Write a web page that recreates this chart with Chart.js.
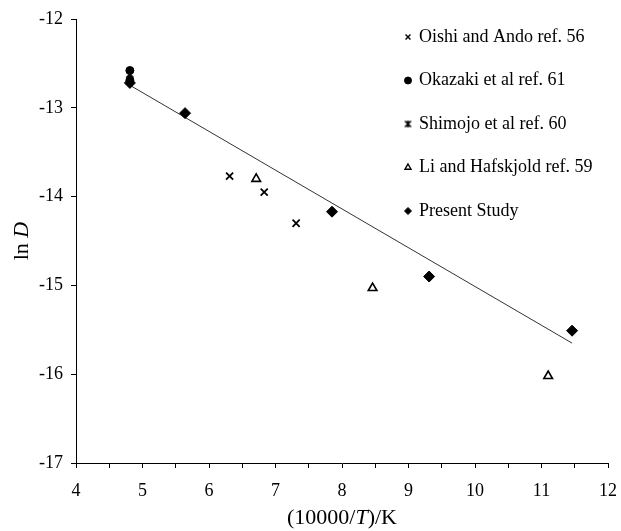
<!DOCTYPE html>
<html>
<head>
<meta charset="utf-8">
<script src="https://cdn.jsdelivr.net/npm/chart.js@4/dist/chart.umd.min.js"></script>
<style>
  html, body { margin: 0; padding: 0; background: #fff; }
  #wrap { width: 621px; height: 531px; }
</style>
</head>
<body>
<div id="wrap"><canvas id="chart" width="621" height="531"></canvas></div>
<script>
// values
const seriesNames = [
  "Oishi and Ando ref. 56",
  "Okazaki et al ref. 61",
  "Shimojo et al ref. 60",
  "Li and Hafskjold ref. 59",
  "Present Study",
];
const oishiX = [6.31, 6.83, 7.31];
const oishiY = [-13.77, -13.95, -14.3];
const okazakiX = [4.81, 4.81];
const okazakiY = [-12.58, -12.69];
const shimojoX = [4.81];
const shimojoY = [-12.62];
const liX = [6.71, 8.46, 11.1];
const liY = [-13.8, -15.03, -16.02];
const presentX = [4.81, 5.64, 7.85, 9.31, 11.46];
const presentY = [-12.72, -13.06, -14.17, -14.9, -15.51];
// fitted line end points
const fitX = [4.82, 11.46];
const fitY = [-12.75, -15.65];

const xTicks = [4, 5, 6, 7, 8, 9, 10, 11, 12];
const yTicks = [-12, -13, -14, -15, -16, -17];

const pts = (xs, ys) => xs.map((x, i) => ({ x: x, y: ys[i] }));
const serif = "'Liberation Serif', 'DejaVu Serif', serif";

// asterisk-like marker (x with a vertical bar) for Shimojo
function makeAsterisk(size) {
  const c = document.createElement("canvas");
  c.width = size;
  c.height = size;
  const g = c.getContext("2d");
  g.strokeStyle = "#000";
  g.lineWidth = 1.6;
  const m = 1.5;
  g.beginPath();
  g.moveTo(m, m); g.lineTo(size - m, size - m);
  g.moveTo(size - m, m); g.lineTo(m, size - m);
  g.moveTo(size / 2, m - 0.5); g.lineTo(size / 2, size - m + 0.5);
  g.stroke();
  return c;
}
const asteriskBig = makeAsterisk(10);
const asteriskSmall = makeAsterisk(9);

const datasets = [
  { label: seriesNames[0], data: pts(oishiX, oishiY), pointStyle: "crossRot", pointRadius: 5, borderWidth: 1.8, borderColor: "#000", backgroundColor: "#000" },
  { label: seriesNames[1], data: pts(okazakiX, okazakiY), pointStyle: "circle", pointRadius: 4, borderWidth: 1, borderColor: "#000", backgroundColor: "#000" },
  { label: seriesNames[2], data: pts(shimojoX, shimojoY), pointStyle: asteriskBig, pointRadius: 5, borderWidth: 1.5, borderColor: "#000", backgroundColor: "#000" },
  { label: seriesNames[3], data: pts(liX, liY), pointStyle: "triangle", pointRadius: 5, borderWidth: 1.6, borderColor: "#000", backgroundColor: "#fff" },
  { label: seriesNames[4], data: pts(presentX, presentY), pointStyle: "rectRot", pointRadius: 5.5, borderWidth: 1, borderColor: "#000", backgroundColor: "#000" },
  { label: "fit", data: pts(fitX, fitY), showLine: true, pointRadius: 0, borderWidth: 1, borderColor: "#333", fill: false },
];

const legendMarks = ["crossRot", "circle", asteriskSmall, "triangle", "rectRot"];

// legend drawn inside the plot area, plus axis titles with italic parts
const overlay = {
  id: "overlay",
  afterDraw(chart) {
    const ctx = chart.ctx;
    ctx.save();
    ctx.textBaseline = "middle";
    for (let i = 0; i < 5; i++) {
      const ds = chart.data.datasets[i];
      const y = 37 + i * 43.5;
      ctx.fillStyle = ds.backgroundColor;
      ctx.strokeStyle = ds.borderColor;
      ctx.lineWidth = Math.min(ds.borderWidth, 1.4);
      Chart.helpers.drawPoint(ctx, {
        pointStyle: legendMarks[i],
        radius: 3.5,
        borderWidth: ctx.lineWidth,
      }, 408, y);
      ctx.fillStyle = "#000";
      ctx.textAlign = "left";
      ctx.font = "18px " + serif;
      ctx.fillText(seriesNames[i], 419, y);
    }

    // x title: (10000/T)/K
    const parts = [["(10000/", false], ["T", true], [")/K", false]];
    let total = 0;
    parts.forEach(p => {
      ctx.font = (p[1] ? "italic " : "") + "22px " + serif;
      total += ctx.measureText(p[0]).width;
    });
    const xa = chart.chartArea;
    let cx = (xa.left + xa.right) / 2 - total / 2;
    ctx.textAlign = "left";
    parts.forEach(p => {
      ctx.font = (p[1] ? "italic " : "") + "22px " + serif;
      ctx.fillText(p[0], cx, 518);
      cx += ctx.measureText(p[0]).width;
    });

    // y title: ln D
    ctx.translate(22, (xa.top + xa.bottom) / 2);
    ctx.rotate(-Math.PI / 2);
    const yParts = [["ln ", false], ["D", true]];
    let yt = 0;
    yParts.forEach(p => {
      ctx.font = (p[1] ? "italic " : "") + "22px " + serif;
      yt += ctx.measureText(p[0]).width;
    });
    let cy = -yt / 2;
    yParts.forEach(p => {
      ctx.font = (p[1] ? "italic " : "") + "22px " + serif;
      ctx.fillText(p[0], cy, 0);
      cy += ctx.measureText(p[0]).width;
    });
    ctx.restore();
  },
};

new Chart(document.getElementById("chart"), {
  type: "scatter",
  data: { datasets: datasets },
  plugins: [overlay],
  options: {
    responsive: false,
    animation: false,
    layout: { padding: { top: 19, right: 4, left: 0, bottom: 0 } },
    plugins: {
      legend: { display: false },
      tooltip: { enabled: false },
    },
    scales: {
      x: {
        type: "linear",
        min: 4,
        max: 12,
        afterFit: (s) => { s.height = 68; s.paddingRight = 13; },
        ticks: {
          stepSize: 0.5,
          color: "#000",
          padding: 12,
          maxRotation: 0,
          autoSkip: false,
          font: { family: serif, size: 18 },
          callback: (v) => (xTicks.includes(v) ? String(v) : ""),
        },
        grid: { drawOnChartArea: false, color: "#000", tickLength: 5, tickColor: "#000" },
        border: { color: "#000", width: 1 },
      },
      y: {
        type: "linear",
        min: -17,
        max: -12,
        afterFit: (s) => { s.width = 76; },
        ticks: {
          stepSize: 1,
          color: "#000",
          padding: 8,
          font: { family: serif, size: 18 },
          callback: (v) => (yTicks.includes(v) ? String(v) : ""),
        },
        grid: { drawOnChartArea: false, color: "#000", tickLength: 5, tickColor: "#000" },
        border: { color: "#000", width: 1 },
      },
    },
  },
});
</script>
</body>
</html>
